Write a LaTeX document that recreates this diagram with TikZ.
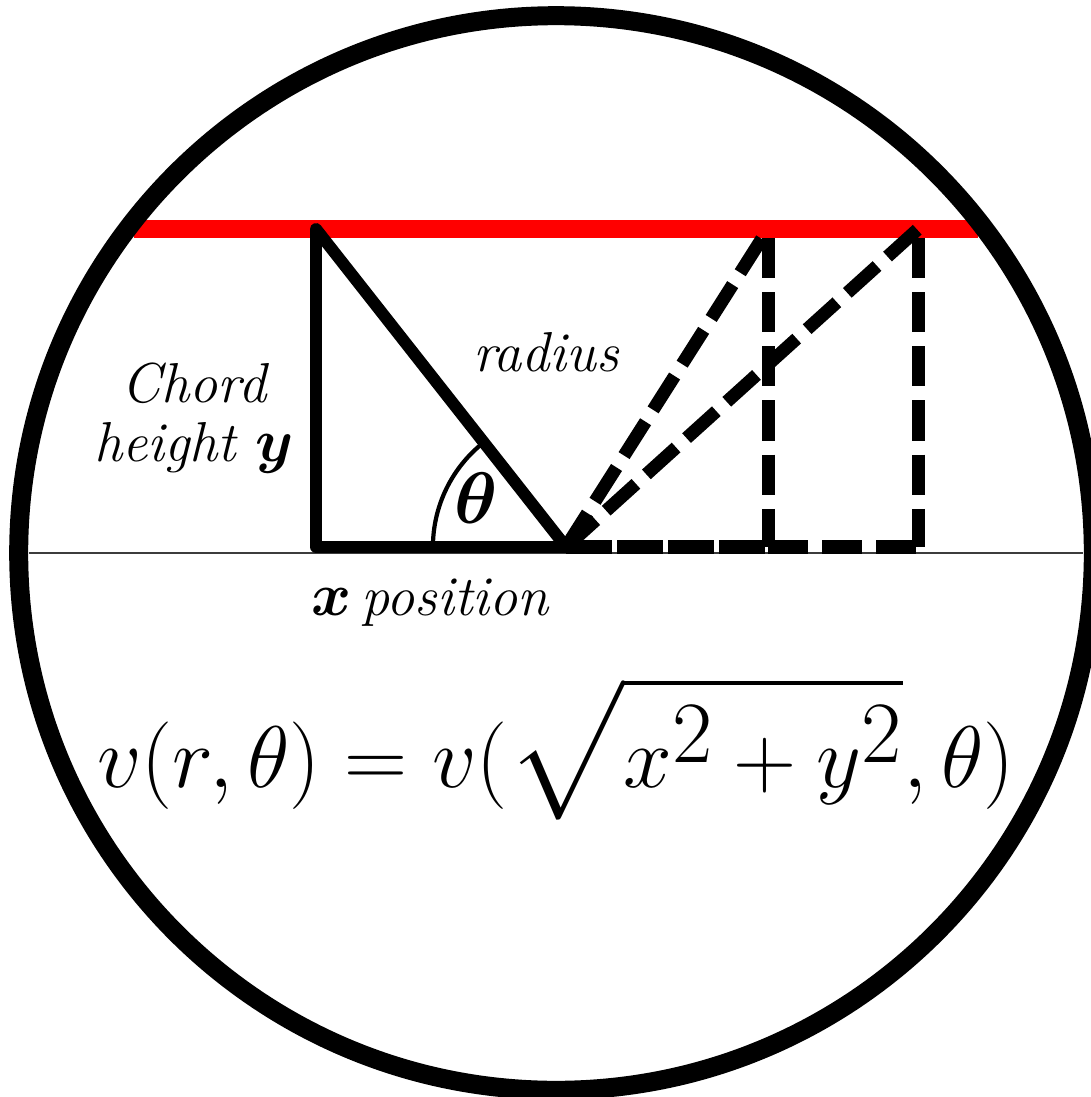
\documentclass[tikz,border=0pt]{standalone}
\usepackage{amsmath,amssymb,bm}
\usepackage{tikz}
\usetikzlibrary{positioning, calc}
\usepackage{xcolor}
\definecolor{chordred}{RGB}{255,0,0}
\definecolor{axisgray}{RGB}{60,60,60}

\tikzset{
  solidleg/.style={line width=3.4pt, line cap=round, line join=round},
  dashleg/.style={line width=3.7pt, dash pattern=on 11.4pt off 4pt},
  baseleg/.style={line width=3.7pt, dash pattern=on 13pt off 1.5pt},
  lbl/.style={font=\fontsize{16}{19}\selectfont\itshape, inner sep=0pt}
}

\begin{document}
\begin{tikzpicture}[x=0.01cm, y=-0.01cm]
    \useasboundingbox (0,0) rectangle (1091,1097);
    % corners of the triangles
    \coordinate (top)    at (316,229);
    \coordinate (corner) at (316,547);
    \coordinate (origin) at (566,547);
    \coordinate (tipA)   at (768,229);
    \coordinate (tipB)   at (918,229);
    \coordinate (footA)  at (768,547);
    \coordinate (footB)  at (918,547);
    \coordinate (chordL) at (134,229);
    \coordinate (chordR) at (978,229);
    \coordinate (axisL)  at (29,553);
    \coordinate (axisR)  at (1083,553);

    % chord and axis
    \draw[chordred, line width=5.1pt] (chordL) -- (chordR);
    \draw[axisgray, line width=0.6pt] (axisL) -- (axisR);

    % solid triangle with angle
    \draw[solidleg] (top) -- (corner) -- (origin) -- cycle;
    \draw[line width=1.2pt] (origin) ++(180:1.33cm)
      arc[start angle=180, end angle=128, radius=1.33cm];

    % dashed triangles
    \draw[dashleg] (origin) -- (tipA);
    \draw[dashleg] (origin) -- (tipB);
    \draw[dashleg] (tipA |- 0,238) -- (footA);
    \draw[dashleg] (tipB |- 0,238) -- (footB);
    \draw[baseleg] (origin) -- (footA);
    \draw[dashleg] (footA) -- (footB);

    % outer circle
    \draw[line width=5.4pt] (556,553) circle[radius=5.37cm];

    % labels
    \node[lbl] (radius) at (546,352) {radius};
    \node[lbl, align=center] (height) at (194,418)
      {Chord\\[-2pt]height $\bm{y}$};
    \node[lbl] (xpos) at (430,603) {$\bm{x}$\,position};
    \node[font=\fontsize{20}{24}\selectfont, inner sep=0pt] (theta)
      at (476,498) {$\bm{\theta}$};
    \node[font=\fontsize{33}{40}\selectfont, inner sep=0pt] (formula)
      at (556,748) {$v(r,\theta) = v(\sqrt{x^2+y^2},\theta)$};
  \end{tikzpicture}
\end{document}
